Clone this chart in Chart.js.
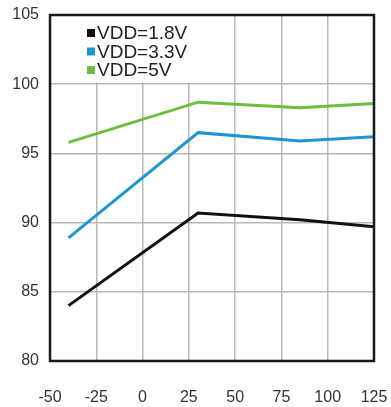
<!DOCTYPE html>
<html>
<head>
<meta charset="utf-8">
<script src="https://cdn.jsdelivr.net/npm/chart.js@4.4.1/dist/chart.umd.min.js"></script>
<style>
  html, body { margin: 0; padding: 0; background: #fff; }
  #wrap { width: 391px; height: 407px; }
</style>
</head>
<body>
<div id="wrap"><canvas id="effChart"></canvas></div>
<script>
// temperature points (x) and efficiency per supply voltage
var temps = [-40, 30, 85, 125];
var vdd18 = [84.0, 90.7, 90.2, 89.7];
var vdd33 = [88.9, 96.5, 95.9, 96.2];
var vdd5 = [95.8, 98.7, 98.3, 98.6];
var seriesLabels = ['VDD=1.8V', 'VDD=3.3V', 'VDD=5V'];
var seriesColors = ['#111111', '#1d95d0', '#6abf3c'];
var xTicks = [-50, -25, 0, 25, 50, 75, 100, 125];
var yTicks = [80, 85, 90, 95, 100, 105];

function toPoints(vals) {
  return temps.map(function(t, i) { return { x: t, y: vals[i] }; });
}

// white legend box over the grid, top-left inside the plot
var legendBoxPlugin = {
  id: 'legendBox',
  beforeDatasetsDraw: function(chart) {
    var c = chart.ctx, a = chart.chartArea;
    c.save();
    c.fillStyle = '#fff';
    c.fillRect(a.left + 1, a.top + 1, 174, 66.5);
    c.font = '19px "Liberation Sans", Arial, sans-serif';
    c.textBaseline = 'middle';
    chart.data.datasets.forEach(function(ds, i) {
      var y = 33 + i * 18.5;
      c.fillStyle = ds.borderColor;
      c.fillRect(87, y - 4, 8, 8);
      c.fillStyle = '#222';
      c.fillText(ds.label, 97, y + 1);
    });
    c.restore();
  }
};

// dark frame around the plot area
var framePlugin = {
  id: 'frame',
  afterDraw: function(chart) {
    var c = chart.ctx, a = chart.chartArea;
    c.save();
    c.strokeStyle = '#1a1a1a';
    c.lineWidth = 2.5;
    c.strokeRect(a.left, a.top, a.right - a.left, a.bottom - a.top);
    c.restore();
  }
};

// keep the plot edges fixed, no extra room for edge labels
function noEdgePadding(s) {
  s.paddingLeft = 0;
  s.paddingRight = 0;
  s.paddingTop = 0;
  s.paddingBottom = 0;
}

var ctx = document.getElementById('effChart').getContext('2d');
var effChart = new Chart(ctx, {
  type: 'line',
  data: {
    datasets: [
      { label: seriesLabels[0], data: toPoints(vdd18), borderColor: seriesColors[0] },
      { label: seriesLabels[1], data: toPoints(vdd33), borderColor: seriesColors[1] },
      { label: seriesLabels[2], data: toPoints(vdd5), borderColor: seriesColors[2] }
    ]
  },
  options: {
    responsive: true,
    maintainAspectRatio: false,
    animation: false,
    elements: {
      line: { borderWidth: 3, tension: 0 },
      point: { radius: 0 }
    },
    plugins: {
      legend: { display: false },
      tooltip: { enabled: false }
    },
    layout: {
      padding: { top: 15, right: 17, bottom: 0, left: 0 }
    },
    scales: {
      x: {
        type: 'linear',
        min: -50,
        max: 125,
        afterBuildTicks: function(s) { s.ticks = xTicks.map(function(v) { return { value: v }; }); },
        afterFit: function(s) { s.height = 46; noEdgePadding(s); },
        grid: { color: '#b8b8b8', lineWidth: 1.5, drawTicks: false },
        border: { display: false },
        ticks: {
          padding: 27,
          color: '#333',
          maxRotation: 0,
          font: { family: '"Liberation Sans", Arial, sans-serif', size: 16 }
        }
      },
      y: {
        min: 80,
        max: 105,
        afterBuildTicks: function(s) { s.ticks = yTicks.map(function(v) { return { value: v }; }); },
        afterFit: function(s) { s.width = 50; noEdgePadding(s); },
        grid: { color: '#b8b8b8', lineWidth: 1.5, drawTicks: false },
        border: { display: false },
        ticks: {
          padding: 11,
          color: '#333',
          font: { family: '"Liberation Sans", Arial, sans-serif', size: 16 }
        }
      }
    }
  },
  plugins: [legendBoxPlugin, framePlugin]
});
</script>
</body>
</html>
